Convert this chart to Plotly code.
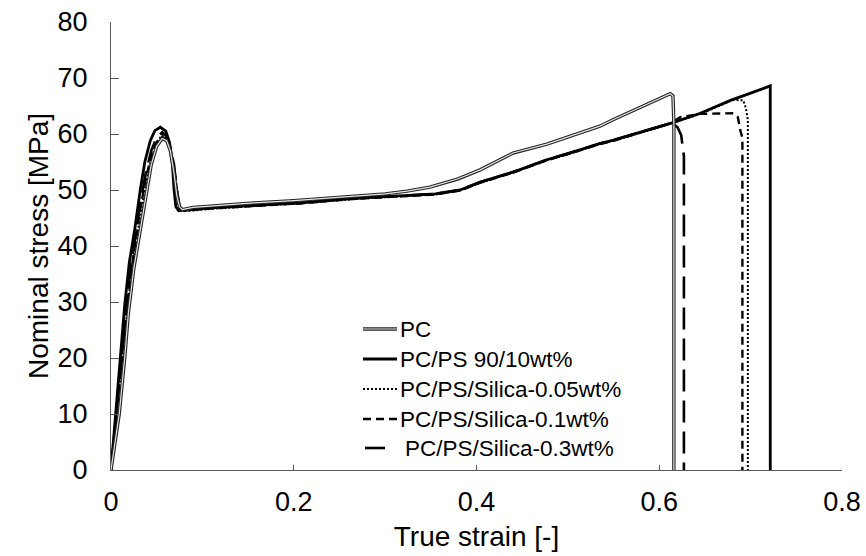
import plotly.graph_objects as go

# ---- data (true strain [-], nominal stress [MPa]) ----
pc_strain = [0, 0.005, 0.009, 0.015, 0.019, 0.025, 0.032, 0.038, 0.044, 0.05, 0.056, 0.061,
             0.065, 0.069, 0.072, 0.075, 0.078, 0.09, 0.12, 0.156, 0.2, 0.265, 0.30, 0.324,
             0.349, 0.38, 0.404, 0.44, 0.477, 0.506, 0.535, 0.55, 0.587, 0.605, 0.612,
             0.615, 0.616, 0.616]
pc_stress = [0, 6, 10, 20, 28, 36, 43, 49, 54.5, 57.8, 59.2, 58.8,
             57.0, 53.0, 49.0, 47.0, 46.5, 46.9, 47.3, 47.7, 48.1, 48.9, 49.3, 49.8,
             50.5, 52.0, 53.6, 56.6, 58.2, 59.8, 61.4, 62.6, 65.3, 66.6, 67.2,
             66.8, 62.0, 0]

ps_strain = [0, 0.005, 0.0106, 0.015, 0.02, 0.026, 0.032, 0.037, 0.043, 0.048, 0.054, 0.06,
             0.064, 0.067, 0.069, 0.071, 0.074, 0.08, 0.108, 0.163, 0.207, 0.265, 0.331,
             0.355, 0.382, 0.404, 0.44, 0.477, 0.506, 0.535, 0.55, 0.587, 0.614, 0.645,
             0.678, 0.70, 0.7215, 0.7215]
ps_stress = [0, 10, 20, 29.5, 37, 43, 50, 55, 58.8, 60.6, 61.2, 60.5,
             58.5, 55, 50, 47, 46.3, 46.5, 46.8, 47.3, 47.7, 48.5, 49.1,
             49.3, 50.0, 51.4, 53.2, 55.4, 56.8, 58.3, 58.9, 60.7, 62.0, 63.7,
             66.0, 67.3, 68.6, 0]

s05_strain = [0, 0.005, 0.01, 0.015, 0.02, 0.026, 0.032, 0.038, 0.044, 0.05, 0.056, 0.061,
              0.065, 0.069, 0.072, 0.0755, 0.08, 0.108, 0.163, 0.207, 0.265, 0.331,
              0.355, 0.382, 0.404, 0.44, 0.477, 0.506, 0.535, 0.55, 0.587, 0.614, 0.645,
              0.681, 0.692, 0.695, 0.697, 0.697]
s05_stress = [0, 8, 16.5, 25, 32, 39, 45.5, 51, 55.5, 58.6, 59.8, 59.3,
              57.5, 54, 50, 46.4, 46.2, 46.6, 47.2, 47.6, 48.4, 49.0,
              49.2, 49.9, 51.3, 53.1, 55.3, 56.7, 58.2, 58.8, 60.6, 61.9, 63.6,
              66.1, 66.0, 64.5, 62.5, 0]

s10_strain = [0, 0.005, 0.01, 0.015, 0.02, 0.026, 0.032, 0.038, 0.044, 0.05, 0.056, 0.061,
              0.065, 0.069, 0.072, 0.0755, 0.08, 0.108, 0.163, 0.207, 0.265, 0.331,
              0.355, 0.382, 0.404, 0.44, 0.477, 0.506, 0.535, 0.55, 0.587, 0.612, 0.623,
              0.645, 0.681, 0.686, 0.689, 0.691, 0.691]
s10_stress = [0, 8, 17, 25.5, 33, 40, 46.5, 52, 56, 58.5, 59.5, 59.0,
              57.3, 54, 50, 46.5, 46.3, 46.7, 47.2, 47.6, 48.4, 49.0,
              49.2, 49.9, 51.3, 53.1, 55.3, 56.7, 58.2, 58.8, 60.6, 61.9, 63.0,
              63.6, 63.7, 63.0, 60.5, 59.3, 0]

s30_strain = [0, 0.005, 0.01, 0.015, 0.02, 0.026, 0.032, 0.038, 0.044, 0.05, 0.056, 0.061,
              0.065, 0.069, 0.072, 0.0755, 0.08, 0.108, 0.163, 0.207, 0.265, 0.331,
              0.355, 0.382, 0.404, 0.44, 0.477, 0.506, 0.535, 0.55, 0.587, 0.614, 0.62,
              0.624, 0.627, 0.627]
s30_stress = [0, 8.5, 17.5, 26.5, 34, 41, 47.5, 53, 57, 59.4, 60.3, 59.6,
              57.6, 54.5, 50, 46.6, 46.4, 46.8, 47.3, 47.7, 48.5, 49.1,
              49.3, 50.0, 51.4, 53.2, 55.4, 56.8, 58.3, 58.9, 60.7, 62.0, 61.2,
              59.8, 56.0, 0]

names = ["PC", "PC/PS 90/10wt%", "PC/PS/Silica-0.05wt%", "PC/PS/Silica-0.1wt%",
         "PC/PS/Silica-0.3wt%"]

x_ticks = [0, 0.2, 0.4, 0.6, 0.8]
x_tick_text = ["0", "0.2", "0.4", "0.6", "0.8"]
y_ticks = [0, 10, 20, 30, 40, 50, 60, 70, 80]

FONT = "Liberation Sans, Arial, sans-serif"
AXIS_COLOR = "#595959"

# line styles per series (order matches `names`)
styles = [
    dict(color="#222222", width=3.4),                      # PC outline
    dict(color="black", width=2.8),                        # PC/PS
    dict(color="black", width=2.0, dash="2px,2px"),        # 0.05
    dict(color="black", width=2.4, dash="8px,5px"),        # 0.1
    dict(color="black", width=2.6, dash="22px,9px"),       # 0.3
]
pc_core = dict(color="#e6e6e6", width=1.2)

fig = go.Figure()

# draw order (bottom to top)
fig.add_trace(go.Scatter(x=s30_strain, y=s30_stress, mode="lines", name=names[4],
                         line=styles[4], showlegend=False))
fig.add_trace(go.Scatter(x=s10_strain, y=s10_stress, mode="lines", name=names[3],
                         line=styles[3], showlegend=False))
fig.add_trace(go.Scatter(x=s05_strain, y=s05_stress, mode="lines", name=names[2],
                         line=styles[2], showlegend=False))
fig.add_trace(go.Scatter(x=ps_strain, y=ps_stress, mode="lines", name=names[1],
                         line=styles[1], showlegend=False))
fig.add_trace(go.Scatter(x=pc_strain, y=pc_stress, mode="lines", name=names[0],
                         line=styles[0], showlegend=False))
fig.add_trace(go.Scatter(x=pc_strain, y=pc_stress, mode="lines", name=names[0],
                         line=pc_core, showlegend=False, hoverinfo="skip"))

# ---- legend (drawn as key lines + text, in paper coordinates) ----
PLOT_L, PLOT_W, PLOT_B, PLOT_H = 111, 731, 470, 448
def px_x(v):
    return (v - PLOT_L) / PLOT_W
def px_y(v):
    return (PLOT_B - v) / PLOT_H

leg_rows_y = [329, 359, 389, 419, 448]
leg_key_x = [(363, 397), (363, 397), (363, 397), (363, 397), (365, 385)]
leg_text_x = [398, 398, 398, 398, 403]

shapes = []
annotations = []
for i, name in enumerate(names):
    y = px_y(leg_rows_y[i])
    x0, x1 = px_x(leg_key_x[i][0]), px_x(leg_key_x[i][1])
    st = styles[i]
    shapes.append(dict(type="line", xref="paper", yref="paper", x0=x0, x1=x1, y0=y, y1=y,
                       line=dict(color=st["color"], width=st["width"],
                                 dash=st.get("dash", "solid"))))
    if i == 0:
        shapes.append(dict(type="line", xref="paper", yref="paper", x0=x0, x1=x1, y0=y, y1=y,
                           line=dict(color=pc_core["color"], width=pc_core["width"])))
    annotations.append(dict(text=name, xref="paper", yref="paper", x=px_x(leg_text_x[i]),
                            y=y, xanchor="left", yanchor="middle", showarrow=False,
                            font=dict(size=22.5, family=FONT, color="black")))

fig.update_layout(
    width=866, height=556,
    margin=dict(l=111, r=24, t=22, b=86),
    paper_bgcolor="white", plot_bgcolor="white",
    font=dict(family=FONT, color="black"),
    showlegend=False,
    shapes=shapes, annotations=annotations,
)

fig.update_xaxes(
    range=[0, 0.8], tickvals=x_ticks, ticktext=x_tick_text,
    showgrid=False, zeroline=False, automargin=False,
    showline=True, linecolor=AXIS_COLOR, linewidth=1.3,
    ticks="inside", ticklen=5, tickcolor=AXIS_COLOR, tickwidth=1.3,
    tickfont=dict(size=27, family=FONT), ticklabelstandoff=7,
    title=dict(text="True strain [-]", font=dict(size=28, family=FONT), standoff=10),
)
fig.update_yaxes(
    range=[0, 80], tickvals=y_ticks,
    showgrid=False, zeroline=False, automargin=False,
    showline=True, linecolor=AXIS_COLOR, linewidth=1.3,
    ticks="inside", ticklen=8, tickcolor=AXIS_COLOR, tickwidth=1.3,
    tickfont=dict(size=27, family=FONT), ticklabelstandoff=17,
    title=dict(text="Nominal stress [MPa]", font=dict(size=28, family=FONT), standoff=0),
)

fig.write_html("out.html", config={"displayModeBar": False},
               post_script="document.body.style.margin='0';document.body.style.overflow='hidden';")
